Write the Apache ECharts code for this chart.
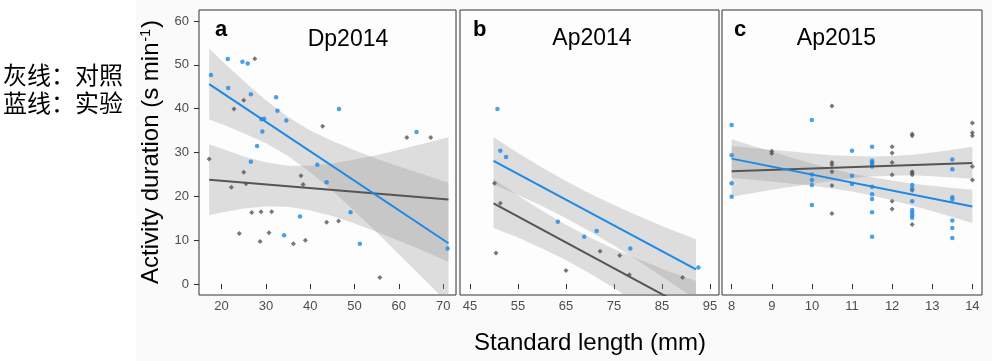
<!DOCTYPE html>
<html><head><meta charset="utf-8">
<script src="https://cdn.jsdelivr.net/npm/echarts@6/dist/echarts.min.js"></script>
<style>html,body{margin:0;padding:0;background:#fff}#c{width:992px;height:361px}</style>
</head><body><div id="c"></div>
<script>
// ---------- tick labels ----------
const yTicks = [0, 10, 20, 30, 40, 50, 60];
const aTicks = [20, 30, 40, 50, 60, 70];
const bTicks = [45, 55, 65, 75, 85, 95];
const cTicks = [8, 9, 10, 11, 12, 13, 14];

// ---------- panel a: Dp2014 ----------
const aBlueX = [17.6, 21.4, 24.7, 25.9, 21.5, 26.6, 32.3, 32.6, 29.0, 29.6, 34.6, 29.2, 28.0, 26.6, 41.6, 43.7, 37.7, 34.1, 46.5, 64.0, 49.1, 51.2, 71.0];
const aBlueY = [47.7, 51.3, 50.7, 50.3, 44.7, 43.3, 42.6, 39.5, 37.6, 37.7, 37.3, 34.8, 31.5, 27.9, 27.2, 23.2, 15.4, 11.1, 39.9, 34.7, 16.4, 9.2, 8.1];
const aGrayX = [27.5, 25.0, 22.8, 42.8, 17.2, 25.0, 37.9, 38.4, 25.5, 22.2, 26.8, 28.9, 31.3, 24.0, 30.7, 28.7, 36.2, 38.9, 43.7, 61.8, 67.2, 46.4, 55.7];
const aGrayY = [51.4, 41.9, 39.9, 36.0, 28.5, 25.5, 24.7, 22.7, 22.9, 22.1, 16.3, 16.5, 16.5, 11.5, 11.7, 9.7, 9.2, 10.0, 14.1, 33.4, 33.4, 14.4, 1.5];
const aBlueLineX = [17.2, 71.2], aBlueLineY = [45.6, 9.3];
const aGrayLineX = [17.2, 71.2], aGrayLineY = [23.8, 19.3];
const aBandX   = [17.2, 20, 25, 30, 35, 40, 45, 50, 55, 60, 65, 71.2];
const aBlueUp  = [53.7, 51.0, 46.3, 41.9, 38.1, 35.0, 32.6, 30.5, 28.6, 26.8, 25.2, 23.1];
const aBlueLo  = [37.5, 36.5, 34.4, 32.1, 29.2, 25.5, 21.3, 16.6, 11.8, 6.8, 1.8, -4.5];
const aGrayUp  = [31.9, 30.9, 29.1, 27.8, 27.0, 27.0, 27.5, 28.4, 29.4, 30.6, 31.9, 33.5];
const aGrayLo  = [15.7, 16.3, 17.2, 17.7, 17.6, 16.8, 15.5, 13.8, 11.9, 9.9, 7.8, 5.1];

// ---------- panel b: Ap2014 ----------
const bBlueX = [50.7, 51.3, 52.5, 63.3, 68.8, 71.4, 78.4, 92.6];
const bBlueY = [39.9, 30.4, 29.0, 14.2, 10.8, 12.1, 8.1, 3.8];
const bGrayX = [50.1, 51.3, 50.4, 65.0, 72.1, 76.2, 78.2, 89.3];
const bGrayY = [23.0, 18.4, 7.1, 3.1, 7.5, 6.5, 2.1, 1.5];
const bBlueLineX = [49.9, 92.1], bBlueLineY = [28.1, 3.35];
const bGrayLineX = [49.9, 92.1], bGrayLineY = [18.4, -6.5];
const bBandX  = [49.9, 55, 60, 65, 70, 75, 80, 86, 92.1];
const bBlueUp = [33.5, 29.9, 26.6, 23.5, 20.6, 18.0, 15.6, 12.8, 10.2];
const bBlueLo = [22.7, 20.3, 17.8, 15.0, 12.0, 8.8, 5.3, 1.0, -3.5];
const bGrayUp = [24.0, 20.2, 16.7, 13.5, 10.6, 8.0, 5.7, 3.1, 0.7];
const bGrayLo = [12.8, 10.6, 8.1, 5.5, 2.4, -0.9, -4.5, -9.0, -13.7];

// ---------- panel c: Ap2015 ----------
const cBlueX = [8, 8, 8, 8, 10, 10, 10, 10, 10, 11, 11, 11,
  11.5, 11.5, 11.5, 11.5, 11.5, 11.5, 11.5, 11.5, 11.5, 11.5,
  12.5, 12.5, 12.5, 12.5, 12.5, 12.5, 12.5,
  13.5, 13.5, 13.5, 13.5, 13.5, 13.5, 13.5];
const cBlueY = [36.3, 29.4, 23.0, 19.9, 37.4, 25.0, 23.7, 22.6, 18.0, 30.4, 24.7, 22.8,
  31.3, 28.1, 27.8, 27.4, 26.8, 22.2, 20.5, 19.4, 16.4, 10.8,
  22.6, 21.8, 18.9, 16.9, 16.3, 15.7, 15.1,
  28.4, 26.2, 19.8, 19.3, 14.5, 12.8, 10.5];
const cGrayX = [9, 9, 10.5, 10.5, 10.5, 10.5, 10.5, 10.5,
  12, 12, 12, 12, 12, 12,
  12.5, 12.5, 12.5, 12.5, 12.5, 12.5, 12.5,
  14, 14, 14, 14, 14];
const cGrayY = [30.3, 29.8, 40.6, 27.7, 27.2, 25.6, 22.5, 16.1,
  31.3, 29.9, 27.7, 24.9, 18.9, 17.1,
  34.2, 33.8, 25.6, 25.3, 24.9, 21.4, 13.6,
  36.7, 34.5, 33.8, 26.8, 23.7];
const cBlueLineX = [8, 14], cBlueLineY = [28.6, 17.7];
const cGrayLineX = [8, 14], cGrayLineY = [25.7, 27.6];
const cBandX  = [8, 8.5, 9, 9.5, 10, 10.5, 11, 11.5, 12, 12.5, 13, 13.5, 14];
const cBlueUp = [33.0, 31.6, 30.2, 28.8, 27.5, 26.3, 25.2, 24.3, 23.6, 22.9, 22.4, 21.9, 21.5];
const cBlueLo = [24.2, 23.8, 23.4, 22.9, 22.4, 21.8, 21.1, 20.2, 19.1, 17.9, 16.6, 15.3, 13.9];
const cGrayUp = [31.5, 31.0, 30.6, 30.2, 29.8, 29.4, 29.2, 29.1, 29.2, 29.5, 30.0, 30.6, 31.3];
const cGrayLo = [19.9, 20.7, 21.5, 22.2, 22.9, 23.5, 24.1, 24.5, 24.7, 24.8, 24.6, 24.3, 24.0];

// ---------- styling ----------
const BLUE = '#1E88E5', GRAY = '#555555', BAND = 'rgba(150,150,150,0.3)';
const FONT = 'Liberation Sans, Arial, sans-serif';
const Y_MIN = -2.5, Y_MAX = 62.5;

const grids = [
  {left: 199, top: 10, width: 257, height: 285},
  {left: 460, top: 10, width: 259, height: 285},
  {left: 722, top: 10, width: 260, height: 285}
].map(g => Object.assign(g, {show: true, borderColor: '#333', borderWidth: 1, backgroundColor: '#fdfdfd'}));

const xRanges = [[14.9, 72.9], [42.9, 96.9], [7.76, 14.24]];
const xTickSets = [aTicks, bTicks, cTicks];

const xAxes = xRanges.map((r, i) => ({
  gridIndex: i, type: 'value', min: r[0], max: r[1],
  axisLine: {show: false}, splitLine: {show: false},
  axisTick: {show: true, length: 5, lineStyle: {color: '#333', width: 1}, customValues: xTickSets[i]},
  axisLabel: {customValues: xTickSets[i], color: '#4d4d4d', fontSize: 13, margin: 5, fontFamily: FONT}
}));
const yAxes = [0, 1, 2].map(i => ({
  gridIndex: i, type: 'value', min: Y_MIN, max: Y_MAX,
  axisLine: {show: false}, splitLine: {show: false},
  axisTick: {show: i === 0, length: 5, lineStyle: {color: '#333', width: 1}, customValues: yTicks},
  axisLabel: {show: i === 0, customValues: yTicks, color: '#4d4d4d', fontSize: 13, margin: 10, fontFamily: FONT}
}));

function zip(xs, ys) { return xs.map((x, i) => [x, ys[i]]); }
function band(gi, xs, up, lo) {
  return {
    type: 'custom', xAxisIndex: gi, yAxisIndex: gi, clip: true, silent: true, z: 1,
    data: [[xs[0], up[0]]],
    renderItem: function (params, api) {
      const pts = [];
      for (let i = 0; i < xs.length; i++) pts.push(api.coord([xs[i], up[i]]));
      for (let i = xs.length - 1; i >= 0; i--) pts.push(api.coord([xs[i], lo[i]]));
      return {type: 'polygon', shape: {points: pts}, style: {fill: BAND}};
    }
  };
}
function pts(gi, xs, ys, color, symbol, size) {
  return {type: 'scatter', xAxisIndex: gi, yAxisIndex: gi, data: zip(xs, ys), symbol: symbol,
    symbolSize: size, itemStyle: {color: color}, silent: true, z: 3};
}
function fit(gi, xs, ys, color) {
  return {type: 'line', xAxisIndex: gi, yAxisIndex: gi, data: zip(xs, ys), showSymbol: false, symbol: 'none',
    clip: true, lineStyle: {color: color, width: 2}, silent: true, z: 4};
}

const series = [
  band(0, aBandX, aBlueUp, aBlueLo), band(0, aBandX, aGrayUp, aGrayLo),
  band(1, bBandX, bBlueUp, bBlueLo), band(1, bBandX, bGrayUp, bGrayLo),
  band(2, cBandX, cBlueUp, cBlueLo), band(2, cBandX, cGrayUp, cGrayLo),
  pts(0, aGrayX, aGrayY, GRAY, 'diamond', 5), pts(0, aBlueX, aBlueY, BLUE, 'circle', 4.5),
  pts(1, bGrayX, bGrayY, GRAY, 'diamond', 5), pts(1, bBlueX, bBlueY, BLUE, 'circle', 4.5),
  pts(2, cGrayX, cGrayY, GRAY, 'diamond', 5), pts(2, cBlueX, cBlueY, BLUE, 'circle', 4.5),
  fit(0, aGrayLineX, aGrayLineY, GRAY), fit(0, aBlueLineX, aBlueLineY, BLUE),
  fit(1, bGrayLineX, bGrayLineY, GRAY), fit(1, bBlueLineX, bBlueLineY, BLUE),
  fit(2, cGrayLineX, cGrayLineY, GRAY), fit(2, cBlueLineX, cBlueLineY, BLUE)
];

function txt(x, y, text, size, opts) {
  return Object.assign({type: 'text', x: x, y: y, z: 10, silent: true,
    style: Object.assign({text: text, fontSize: size, fontFamily: FONT, fill: '#000', align: 'center', verticalAlign: 'middle'}, opts || {})});
}

const graphic = [
  {type: 'rect', x: 0, y: 0, shape: {width: 136, height: 361}, style: {fill: '#ffffff'}, z: 0, silent: true},
  txt(3, 75, '灰线：对照', 24, {align: 'left', fontFamily: 'Noto Sans CJK SC'}),
  txt(3, 103, '蓝线：实验', 24, {align: 'left', fontFamily: 'Noto Sans CJK SC'}),
  txt(215, 30, 'a', 22, {align: 'left', fontWeight: 'bold'}),
  txt(473, 30, 'b', 22, {align: 'left', fontWeight: 'bold'}),
  txt(734, 30, 'c', 22, {align: 'left', fontWeight: 'bold'}),
  txt(348, 39.5, 'Dp2014', 23),
  txt(592, 39, 'Ap2014', 23),
  txt(836.5, 38.5, 'Ap2015', 23),
  txt(590, 343, 'Standard length (mm)', 24),
  {type: 'text', x: 151, y: 152, rotation: Math.PI / 2, z: 10, silent: true,
    style: {text: '{a|Activity duration (s min}{s|-1}{a|)}', align: 'center', verticalAlign: 'middle', fill: '#000',
      rich: {a: {fontSize: 24, fontFamily: FONT, fill: '#000'},
             s: {fontSize: 14, fontFamily: FONT, fill: '#000', verticalAlign: 'top', padding: [0, 1, 0, 1]}}}}
];

const chart = echarts.init(document.getElementById('c'), null, {renderer: 'canvas'});
chart.setOption({
  backgroundColor: '#fafafa',
  animation: false,
  grid: grids, xAxis: xAxes, yAxis: yAxes, series: series, graphic: graphic
});
</script></body></html>
